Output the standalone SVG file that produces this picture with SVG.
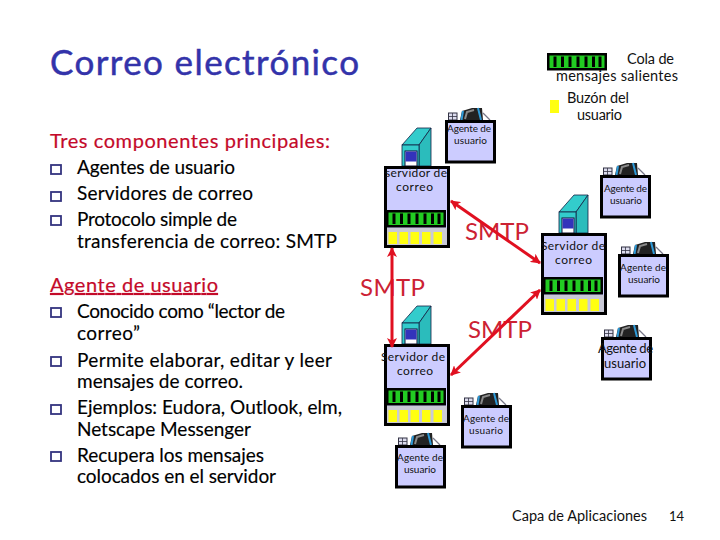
<svg xmlns="http://www.w3.org/2000/svg" width="720" height="540" viewBox="0 0 720 540">
<style>
text{font-family:"Lato","Open Sans","Liberation Sans",sans-serif;fill:#000}
.title{font-size:35px;fill:#3333aa;stroke:#3333aa;stroke-width:.5}
.head{font-size:20px;fill:#c40a2a;stroke:#c40a2a;stroke-width:.2}
.body{font-size:19px;stroke:#000;stroke-width:.15}
.legend{font-size:14.5px;fill:#111}
.srv{font-size:12px;fill:#111}
.ag{font-size:10px;fill:#111}
.ag2{font-size:13px;fill:#111}
.foot{font-size:14.5px;fill:#111}
.page{font-size:13px;fill:#111}
.smtp{font-size:24px;fill:#cc2233}
.bullet{fill:none;stroke:#33337f;stroke-width:1.8}
.conn{stroke:#e01020;stroke-width:3;fill:none;marker-start:url(#head);marker-end:url(#head)}
</style>
<defs>
<marker id="head" markerUnits="userSpaceOnUse" markerWidth="10" markerHeight="10" refX="9" refY="5" orient="auto-start-reverse"><path d="M0 0L10 5L0 10L2.500 5Z" fill="#e01020"/></marker>
<g id="queue">
<rect x="2" y="44" width="60" height="17.500" fill="#000"/>
<rect x="4.500" y="46.500" width="55" height="12.500" fill="#22cc22"/>
<path d="M10 47.500V58M17.500 47.500V58M25 47.500V58M33 47.500V58M41 47.500V58M48.500 47.500V58M55 47.500V58" stroke="#000" stroke-width="3"/>
</g>
<g id="server">
<path d="M18-21L33-38H47L35-21Z" fill="#33cccc" stroke="#124" stroke-width=".8"/>
<path d="M35-21L47-38V0H35Z" fill="#2bbcbc" stroke="#124" stroke-width=".8"/>
<rect x="18" y="-21" width="17" height="21" fill="#33cccc" stroke="#124" stroke-width=".8"/>
<rect x="21" y="-15" width="12" height="15" fill="#fff" stroke="#113" stroke-width="1"/>
<rect x="21.500" y="-14.500" width="11" height="10" fill="#3333bb"/>
<rect x="1.500" y="1.500" width="63" height="79" fill="#ccccff" stroke="#000" stroke-width="3"/>
<use href="#queue"/>
<rect x="3" y="62" width="60" height="17" fill="#c9c9d6"/>
<g fill="#ffff11"><rect x="4.500" y="66" width="8.500" height="12"/><rect x="15.500" y="66" width="8.500" height="12"/><rect x="26.500" y="66" width="8.500" height="12"/><rect x="38" y="66" width="8.500" height="12"/><rect x="49.500" y="66" width="8.500" height="12"/></g>
</g>
<g id="agent">
<rect x="3.500" y="-7" width="8.500" height="7" fill="#dde" stroke="#334" stroke-width="1"/>
<path d="M7.500-7V0M3.500-3.500H12" stroke="#334" stroke-width=".8"/>
<path d="M15 0L17-9L27-12H37L38 0Z" fill="#222"/>
<path d="M20-1L22-8L29-10" fill="none" stroke="#8a8a8a" stroke-width="2"/>
<path d="M16.500 0L18-9M33-12L36 0" fill="none" stroke="#2e9ad8" stroke-width="2"/>
<path d="M38-7L45 0" stroke="#778" stroke-width="1.200"/>
<rect x="1.500" y="1.500" width="48" height="40.500" fill="#ccccff" stroke="#000" stroke-width="3"/>
</g>
</defs>
<rect width="720" height="540" fill="#fff"/>
<g id="slide-text">
<text class="title" x="50" y="75" textLength="309" lengthAdjust="spacing">Correo electrónico</text>
<text class="head" x="50" y="148" textLength="280" lengthAdjust="spacing">Tres componentes principales:</text>
<g>
<rect class="bullet" x="51" y="165" width="10" height="9"/><rect class="bullet" x="51" y="192" width="10" height="9"/><rect class="bullet" x="51" y="216" width="10" height="9"/>
<rect class="bullet" x="51" y="308" width="10" height="9"/><rect class="bullet" x="51" y="357" width="10" height="9"/><rect class="bullet" x="51" y="405" width="10" height="9"/><rect class="bullet" x="51" y="452" width="10" height="9"/>
</g>
<text class="body" x="77" y="174" textLength="158" lengthAdjust="spacing">Agentes de usuario</text>
<text class="body" x="77" y="200" textLength="176" lengthAdjust="spacing">Servidores de correo</text>
<text class="body" x="77" y="226" textLength="160" lengthAdjust="spacing">Protocolo simple de</text>
<text class="body" x="77" y="248" textLength="260" lengthAdjust="spacing">transferencia de correo: SMTP</text>
<text class="head" x="50" y="292" textLength="168" lengthAdjust="spacing" style="text-decoration:underline">Agente de usuario</text>
<text class="body" x="77" y="318" textLength="208" lengthAdjust="spacing">Conocido como “lector de</text>
<text class="body" x="77" y="340" textLength="63" lengthAdjust="spacing">correo”</text>
<text class="body" x="77" y="367" textLength="255" lengthAdjust="spacing">Permite elaborar, editar y leer</text>
<text class="body" x="77" y="388" textLength="166" lengthAdjust="spacing">mensajes de correo.</text>
<text class="body" x="77" y="414" textLength="265" lengthAdjust="spacing">Ejemplos: Eudora, Outlook, elm,</text>
<text class="body" x="77" y="436" textLength="174" lengthAdjust="spacing">Netscape Messenger</text>
<text class="body" x="77" y="462" textLength="187" lengthAdjust="spacing">Recupera los mensajes</text>
<text class="body" x="77" y="483" textLength="199" lengthAdjust="spacing">colocados en el servidor</text>
<text class="foot" x="512" y="521" textLength="135" lengthAdjust="spacing">Capa de Aplicaciones</text>
<text class="page" x="669" y="521">14</text>
</g>
<g id="legend">
<use href="#queue" x="545" y="9"/>
<rect x="550" y="100" width="9" height="13" fill="#ffff11"/>
<text class="legend" x="627" y="64" textLength="47" lengthAdjust="spacing">Cola de</text>
<text class="legend" x="556" y="81" textLength="122" lengthAdjust="spacing">mensajes salientes</text>
<text class="legend" x="567" y="103" textLength="62" lengthAdjust="spacing">Buzón del</text>
<text class="legend" x="577" y="120" textLength="45" lengthAdjust="spacing">usuario</text>
</g>
<g id="server-1">
<use href="#server" x="384" y="166"/>
<text class="srv" x="385" y="177" textLength="62" lengthAdjust="spacing">servidor de</text>
<text class="srv" x="396" y="191" textLength="37" lengthAdjust="spacing">correo</text>
</g>
<g id="server-2">
<use href="#server" x="541" y="233"/>
<text class="srv" x="541" y="250" textLength="64" lengthAdjust="spacing">Servidor de</text>
<text class="srv" x="555" y="264" textLength="37" lengthAdjust="spacing">correo</text>
</g>
<g id="server-3">
<use href="#server" x="384" y="344"/>
<text class="srv" x="381" y="361" textLength="64" lengthAdjust="spacing">Servidor de</text>
<text class="srv" x="397" y="375" textLength="36" lengthAdjust="spacing">correo</text>
</g>
<g id="agent-1">
<use href="#agent" x="445" y="120"/>
<text class="ag" x="447" y="132" textLength="44" lengthAdjust="spacing">Agente de</text>
<text class="ag" x="454" y="144" textLength="33" lengthAdjust="spacing">usuario</text>
</g>
<g id="agent-2">
<use href="#agent" x="600" y="175"/>
<text class="ag" x="604" y="192" textLength="43" lengthAdjust="spacing">Agente de</text>
<text class="ag" x="610" y="204" textLength="32" lengthAdjust="spacing">usuario</text>
</g>
<g id="agent-3">
<use href="#agent" x="618" y="254"/>
<text class="ag" x="620" y="271" textLength="46" lengthAdjust="spacing">Agente de</text>
<text class="ag" x="628" y="283" textLength="32" lengthAdjust="spacing">usuario</text>
</g>
<g id="agent-4">
<use href="#agent" x="601" y="337"/>
<text class="ag2" x="598" y="353" textLength="55" lengthAdjust="spacing">Agente de</text>
<text class="ag2" x="604" y="368" textLength="42" lengthAdjust="spacing">usuario</text>
</g>
<g id="agent-5">
<use href="#agent" x="461" y="405"/>
<text class="ag" x="463" y="422" textLength="46" lengthAdjust="spacing">Agente de</text>
<text class="ag" x="469" y="434" textLength="34" lengthAdjust="spacing">usuario</text>
</g>
<g id="agent-6">
<use href="#agent" x="395" y="445"/>
<text class="ag" x="397" y="461" textLength="46" lengthAdjust="spacing">Agente de</text>
<text class="ag" x="404" y="473" textLength="32" lengthAdjust="spacing">usuario</text>
</g>
<g id="connectors">
<text class="smtp" x="465" y="240" textLength="64" lengthAdjust="spacing">SMTP</text>
<text class="smtp" x="360" y="296" textLength="65" lengthAdjust="spacing">SMTP</text>
<text class="smtp" x="468" y="338" textLength="64" lengthAdjust="spacing">SMTP</text>
<line class="conn" x1="392" y1="248" x2="392" y2="347"/>
<line class="conn" x1="451" y1="201" x2="540" y2="263"/>
<line class="conn" x1="540" y1="290" x2="451" y2="375"/>
</g>
</svg>
